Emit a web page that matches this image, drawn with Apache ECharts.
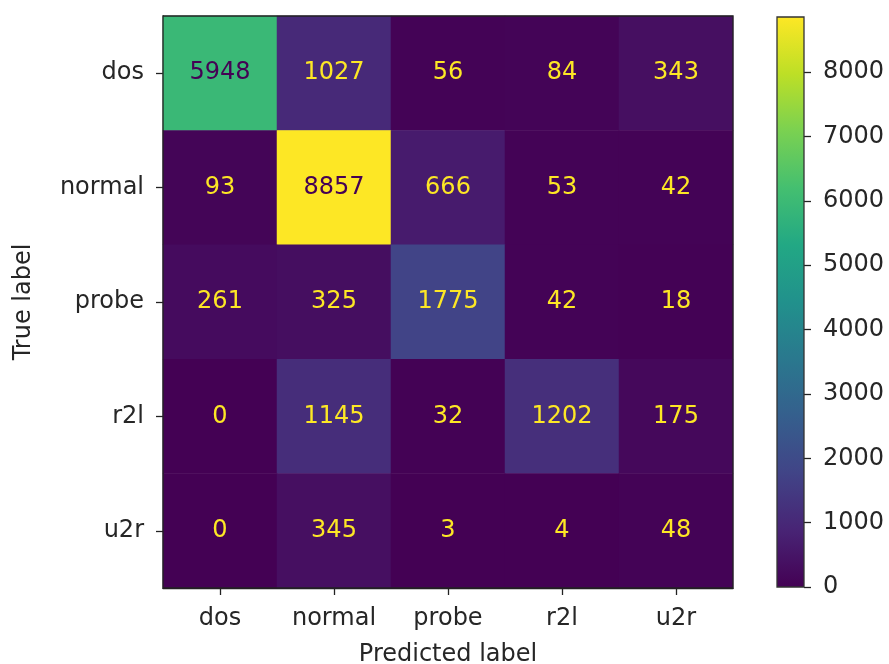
<!DOCTYPE html>
<html><head><meta charset="utf-8">
<script src="https://cdn.jsdelivr.net/npm/echarts@6/dist/echarts.min.js"></script>
<style>html,body{margin:0;padding:0;background:#fff}#c{width:889px;height:664px}</style>
</head><body><div id="c"></div>
<script>
var classes = ['dos','normal','probe','r2l','u2r'];
var xLabels = ['dos','normal','probe','r2l','u2r'];
var yLabels = ['dos','normal','probe','r2l','u2r'];
// rows = true label, columns = predicted label
var rowDos    = [5948, 1027, 56, 84, 343];
var rowNormal = [93, 8857, 666, 53, 42];
var rowProbe  = [261, 325, 1775, 42, 18];
var rowR2l    = [0, 1145, 32, 1202, 175];
var rowU2r    = [0, 345, 3, 4, 48];
var colorbarTicks = [0,1000,2000,3000,4000,5000,6000,7000,8000];
var viridis = ['#440154','#482475','#414487','#355f8d','#2a788e','#21918c','#22a884','#44bf70','#7ad151','#bddf26','#fde725'];

var rows = [rowDos,rowNormal,rowProbe,rowR2l,rowU2r];
var vmax = 0, vmin = Infinity;
rows.forEach(function(r){ r.forEach(function(v){ vmax=Math.max(vmax,v); vmin=Math.min(vmin,v); }); });
var thresh = (vmax+vmin)/2;
var data = [];
rows.forEach(function(r,i){
  r.forEach(function(v,j){
    data.push({value:[j,i,v], label:{color: v>thresh ? viridis[0] : viridis[viridis.length-1]}});
  });
});
var FONT = 'DejaVu Sans';
var TXT = '#262626';
var FS = 24;
var stops = viridis.slice().reverse().map(function(c,k){ return {offset:k/(viridis.length-1), color:c}; });

var chart = echarts.init(document.getElementById('c'));
chart.setOption({
  animation:false,
  textStyle:{fontFamily:FONT},
  grid:[
    {left:163, top:16, width:570, height:572, show:true, borderColor:'#222', borderWidth:1.3, backgroundColor:'transparent', z:5, outerBoundsMode:'none', containLabel:false},
    {left:777, top:17, width:27, height:570, show:true, borderColor:'#333', borderWidth:1.3, z:5, outerBoundsMode:'none', containLabel:false}
  ],
  xAxis:[
    {type:'category', data:xLabels, gridIndex:0, position:'bottom',
     axisLine:{show:true, lineStyle:{color:'#222', width:1.3}},
     axisTick:{show:true, alignWithLabel:true, length:7, lineStyle:{color:'#222', width:1.3}},
     axisLabel:{fontSize:FS, color:TXT, margin:19, fontFamily:FONT},
     splitLine:{show:false},
     name:'Predicted label', nameLocation:'middle', nameGap:55,
     nameTextStyle:{fontSize:FS, color:TXT, fontFamily:FONT}},
    {type:'category', data:[''], gridIndex:1, show:false}
  ],
  yAxis:[
    {type:'category', data:yLabels, gridIndex:0, inverse:true,
     axisLine:{show:true, lineStyle:{color:'#222', width:1.3}},
     axisTick:{show:true, alignWithLabel:true, length:7, lineStyle:{color:'#222', width:1.3}},
     axisLabel:{fontSize:FS, color:TXT, margin:19, fontFamily:FONT},
     splitLine:{show:false},
     name:'True label', nameLocation:'middle', nameGap:127,
     nameTextStyle:{fontSize:FS, color:TXT, fontFamily:FONT}},
    {type:'value', gridIndex:1, position:'right', min:0, max:vmax,
     axisLine:{show:false},
     axisTick:{show:true, length:7, customValues:colorbarTicks, lineStyle:{color:'#222', width:1.3}},
     axisLabel:{fontSize:FS, color:TXT, margin:19, customValues:colorbarTicks, fontFamily:FONT,
       formatter:function(v){return String(v);}},
     splitLine:{show:false}}
  ],
  visualMap:{show:false, seriesIndex:0, min:vmin, max:vmax, inRange:{color:viridis}},
  series:[
    {type:'heatmap', xAxisIndex:0, yAxisIndex:0, data:data,
     label:{show:true, fontSize:FS, fontFamily:FONT, formatter:function(p){return p.value[2];}},
     itemStyle:{borderWidth:0}},
    {type:'bar', xAxisIndex:1, yAxisIndex:1, data:[vmax], barWidth:'100%', silent:true,
     itemStyle:{color:new echarts.graphic.LinearGradient(0,0,0,1,stops)}}
  ]
});
</script></body></html>
